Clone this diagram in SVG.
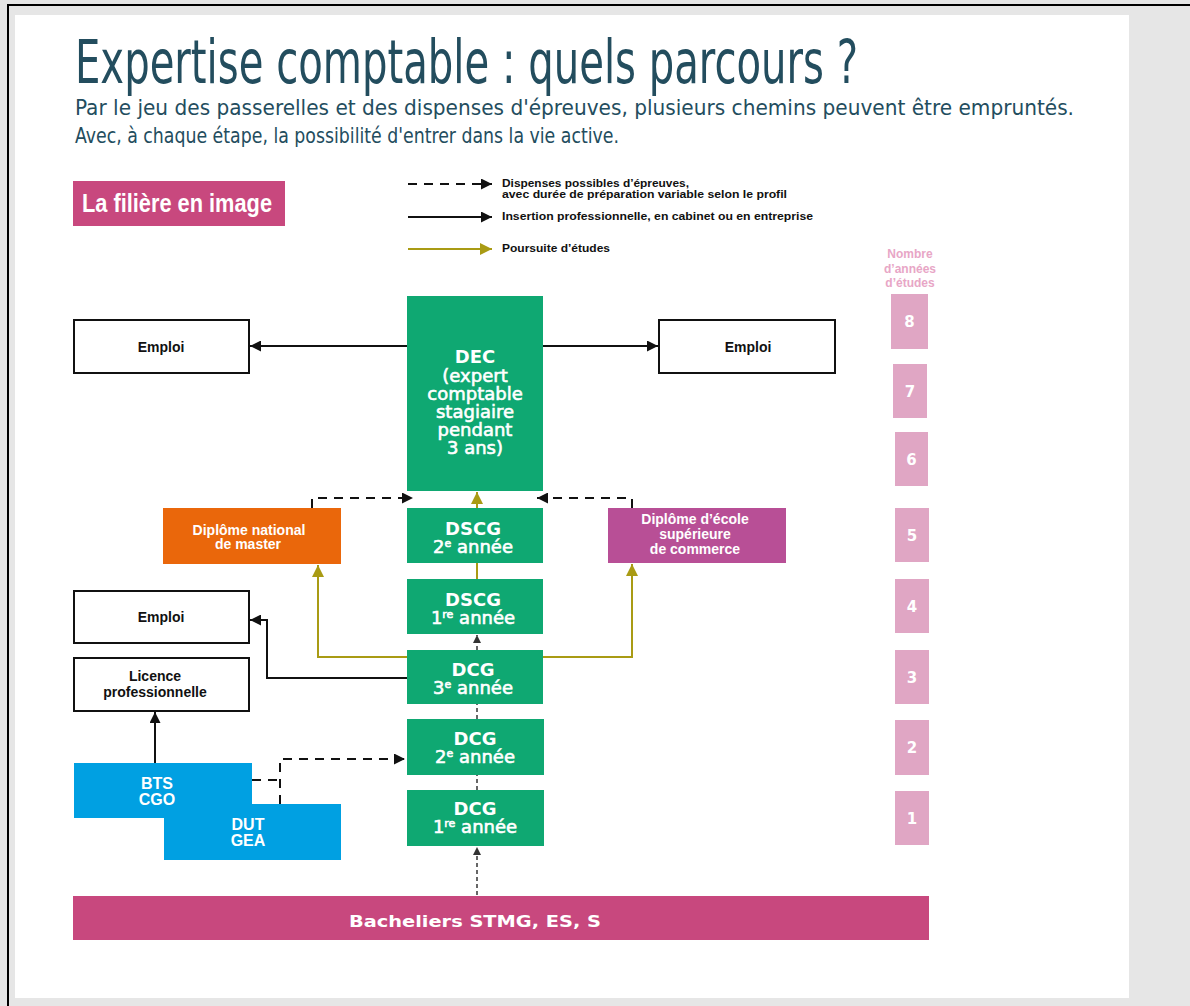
<svg xmlns="http://www.w3.org/2000/svg" width="1190" height="1006" viewBox="0 0 1190 1006">
<defs>
<style>
.cond{font-family:"Liberation Sans","DejaVu Sans",sans-serif;font-weight:bold}
.wide{font-family:"DejaVu Sans","Liberation Sans",sans-serif;font-weight:bold}
.med{font-family:"DejaVu Sans","Liberation Sans",sans-serif;font-weight:normal;stroke:#fff;stroke-width:0.6}
.green{fill:#0fa872}
.wbox{fill:#fff;stroke:#111;stroke-width:2}
.year{fill:#e0a6c4}
.yn{font-family:"DejaVu Sans",sans-serif;font-weight:bold;font-size:15px;fill:#fff;text-anchor:middle}
.blk{fill:none;stroke:#111;stroke-width:2}
.olv{fill:none;stroke:#a99b14;stroke-width:2}
.dsh{fill:none;stroke:#111;stroke-width:2;stroke-dasharray:9,7}
.dot{fill:none;stroke:#666;stroke-width:2;stroke-dasharray:4,3}
</style>
<marker id="ab" viewBox="0 0 10 10" refX="10" refY="5" markerWidth="11" markerHeight="11" markerUnits="userSpaceOnUse" orient="auto"><path d="M0,0 L10,5 L0,10 z" fill="#111"/></marker>
<marker id="ao" viewBox="0 0 10 10" refX="10" refY="5" markerWidth="12" markerHeight="12" markerUnits="userSpaceOnUse" orient="auto"><path d="M0,0 L10,5 L0,10 z" fill="#a99b14"/></marker>
<marker id="ag" viewBox="0 0 10 10" refX="10" refY="5" markerWidth="8" markerHeight="8" markerUnits="userSpaceOnUse" orient="auto"><path d="M0,0 L10,5 L0,10 z" fill="#333"/></marker>
</defs>

<rect x="0" y="0" width="1190" height="1006" fill="#e6e6e6"/>
<line x1="7" y1="5" x2="1190" y2="5" stroke="#000" stroke-width="2"/>
<line x1="8" y1="5" x2="8" y2="1006" stroke="#000" stroke-width="2"/>
<rect x="15" y="15" width="1114" height="983" fill="#fff"/>

<g id="title">
<text x="75" y="83" font-family="'Liberation Sans Narrow','DejaVu Sans Condensed','Liberation Sans',sans-serif" font-size="60" fill="#234d5e" textLength="783" lengthAdjust="spacingAndGlyphs">Expertise comptable : quels parcours ?</text>
<text x="75" y="115" font-family="'Liberation Sans Narrow','DejaVu Sans Condensed','Liberation Sans',sans-serif" font-size="21" fill="#234d5e" textLength="999" lengthAdjust="spacingAndGlyphs">Par le jeu des passerelles et des dispenses d'épreuves, plusieurs chemins peuvent être empruntés.</text>
<text x="75" y="143" font-family="'Liberation Sans Narrow','DejaVu Sans Condensed','Liberation Sans',sans-serif" font-size="21" fill="#234d5e" textLength="544" lengthAdjust="spacingAndGlyphs">Avec, à chaque étape, la possibilité d'entrer dans la vie active.</text>
</g>

<g id="badge">
<rect x="73" y="181" width="212" height="45" fill="#c8487e"/>
<text x="82" y="212" class="cond" font-size="25" fill="#fff" textLength="190" lengthAdjust="spacingAndGlyphs">La filière en image</text>
</g>

<g id="legend">
<line x1="408" y1="184" x2="492" y2="184" class="dsh" marker-end="url(#ab)"/>
<text x="502" y="187" class="cond" font-size="11" fill="#111" textLength="187" lengthAdjust="spacingAndGlyphs">Dispenses possibles d’épreuves,</text>
<text x="502" y="198" class="cond" font-size="11" fill="#111" textLength="285" lengthAdjust="spacingAndGlyphs">avec durée de préparation variable selon le profil</text>
<line x1="408" y1="217" x2="492" y2="217" class="blk" marker-end="url(#ab)"/>
<text x="502" y="220" class="cond" font-size="11" fill="#111" textLength="311" lengthAdjust="spacingAndGlyphs">Insertion professionnelle, en cabinet ou en entreprise</text>
<line x1="408" y1="249" x2="492" y2="249" class="olv" marker-end="url(#ao)"/>
<text x="502" y="252" class="cond" font-size="11" fill="#111" textLength="108" lengthAdjust="spacingAndGlyphs">Poursuite d’études</text>
</g>

<g id="years">
<text x="910" y="258" class="cond" font-size="12" fill="#e8a6c6" text-anchor="middle">Nombre</text>
<text x="910" y="273" class="cond" font-size="12" fill="#e8a6c6" text-anchor="middle">d’années</text>
<text x="910" y="287" class="cond" font-size="12" fill="#e8a6c6" text-anchor="middle">d’études</text>
<g id="y8"><rect x="891" y="294" width="37" height="55" class="year"/><text x="909.5" y="327" class="yn">8</text></g>
<g id="y7"><rect x="893" y="364" width="34" height="54" class="year"/><text x="910" y="397" class="yn">7</text></g>
<g id="y6"><rect x="895" y="432" width="33" height="54" class="year"/><text x="911.5" y="465" class="yn">6</text></g>
<g id="y5"><rect x="895" y="508" width="34" height="54" class="year"/><text x="912" y="541" class="yn">5</text></g>
<g id="y4"><rect x="895" y="579" width="34" height="54" class="year"/><text x="912" y="612" class="yn">4</text></g>
<g id="y3"><rect x="895" y="650" width="34" height="54" class="year"/><text x="912" y="683" class="yn">3</text></g>
<g id="y2"><rect x="895" y="720" width="34" height="55" class="year"/><text x="912" y="753" class="yn">2</text></g>
<g id="y1"><rect x="895" y="791" width="34" height="54" class="year"/><text x="912" y="824" class="yn">1</text></g>
</g>

<g id="connectors">
<line x1="407" y1="346" x2="250" y2="346" class="blk" marker-end="url(#ab)"/>
<line x1="543" y1="346" x2="658" y2="346" class="blk" marker-end="url(#ab)"/>
<polyline points="407,678 267,678 267,620 250,620" class="blk" marker-end="url(#ab)"/>
<line x1="155" y1="763" x2="155" y2="712" class="blk" marker-end="url(#ab)"/>
<polyline points="407,657 318,657 318,565" class="olv" marker-end="url(#ao)"/>
<polyline points="543,657 632,657 632,564" class="olv" marker-end="url(#ao)"/>
<line x1="477" y1="579" x2="477" y2="563" stroke="#a99b14" stroke-width="2"/>
<line x1="477" y1="508" x2="477" y2="492" class="olv" marker-end="url(#ao)"/>
<polyline points="312,508 312,498 413,498" class="dsh" marker-end="url(#ab)"/>
<polyline points="632,508 632,498 537,498" class="dsh" marker-end="url(#ab)"/>
<polyline points="252,780 280,780" class="dsh"/>
<polyline points="280,804 280,759 405,759" class="dsh" marker-end="url(#ab)"/>
<line x1="477" y1="650" x2="477" y2="635" class="dot" marker-end="url(#ag)"/>
<line x1="477" y1="719" x2="477" y2="704" class="dot"/>
<line x1="477" y1="790" x2="477" y2="775" class="dot"/>
<line x1="477" y1="895" x2="477" y2="847" class="dot" marker-end="url(#ag)"/>
</g>

<g id="emploi-top-left"><rect x="74" y="320" width="175" height="53" class="wbox"/><text x="161" y="352" class="cond" font-size="14" text-anchor="middle" fill="#111">Emploi</text></g>
<g id="emploi-top-right"><rect x="659" y="320" width="176" height="53" class="wbox"/><text x="748" y="352" class="cond" font-size="14" text-anchor="middle" fill="#111">Emploi</text></g>
<g id="emploi-mid"><rect x="74" y="591" width="175" height="52" class="wbox"/><text x="161" y="622" class="cond" font-size="14" text-anchor="middle" fill="#111">Emploi</text></g>
<g id="licence"><rect x="74" y="658" width="175" height="53" class="wbox"/><text x="155" y="681" class="cond" font-size="14" text-anchor="middle" fill="#111">Licence</text><text x="155" y="697" class="cond" font-size="14" text-anchor="middle" fill="#111">professionnelle</text></g>

<g id="dec"><rect x="407" y="296" width="136" height="195" class="green"/>
<text x="475" y="363" class="wide" font-size="18" fill="#fff" text-anchor="middle">DEC</text>
<text x="475" y="382" class="med" font-size="18" fill="#fff" text-anchor="middle">(expert</text>
<text x="475" y="400" class="med" font-size="18" fill="#fff" text-anchor="middle">comptable</text>
<text x="475" y="418" class="med" font-size="18" fill="#fff" text-anchor="middle">stagiaire</text>
<text x="475" y="436" class="med" font-size="18" fill="#fff" text-anchor="middle">pendant</text>
<text x="475" y="454" class="med" font-size="18" fill="#fff" text-anchor="middle">3 ans)</text>
</g>

<g id="dscg2"><rect x="407" y="508" width="136" height="55" class="green"/>
<text x="473" y="535" class="wide" font-size="18" fill="#fff" text-anchor="middle">DSCG</text>
<text x="473" y="553" class="med" font-size="18" fill="#fff" text-anchor="middle">2<tspan font-size="11" dy="-6">e</tspan><tspan dy="6"> année</tspan></text>
</g>
<g id="dscg1"><rect x="407" y="579" width="136" height="55" class="green"/>
<text x="473" y="606" class="wide" font-size="18" fill="#fff" text-anchor="middle">DSCG</text>
<text x="473" y="624" class="med" font-size="18" fill="#fff" text-anchor="middle">1<tspan font-size="11" dy="-6">re</tspan><tspan dy="6"> année</tspan></text>
</g>
<g id="dcg3"><rect x="407" y="650" width="136" height="54" class="green"/>
<text x="473" y="676" class="wide" font-size="18" fill="#fff" text-anchor="middle">DCG</text>
<text x="473" y="694" class="med" font-size="18" fill="#fff" text-anchor="middle">3<tspan font-size="11" dy="-6">e</tspan><tspan dy="6"> année</tspan></text>
</g>
<g id="dcg2"><rect x="407" y="719" width="137" height="56" class="green"/>
<text x="475" y="745" class="wide" font-size="18" fill="#fff" text-anchor="middle">DCG</text>
<text x="475" y="763" class="med" font-size="18" fill="#fff" text-anchor="middle">2<tspan font-size="11" dy="-6">e</tspan><tspan dy="6"> année</tspan></text>
</g>
<g id="dcg1"><rect x="407" y="790" width="137" height="56" class="green"/>
<text x="475" y="815" class="wide" font-size="18" fill="#fff" text-anchor="middle">DCG</text>
<text x="475" y="833" class="med" font-size="18" fill="#fff" text-anchor="middle">1<tspan font-size="11" dy="-6">re</tspan><tspan dy="6"> année</tspan></text>
</g>

<g id="master"><rect x="163" y="508" width="178" height="56" fill="#ea670b"/>
<text x="249" y="535" class="cond" font-size="14" fill="#fff" text-anchor="middle">Diplôme national</text>
<text x="248" y="549" class="cond" font-size="14" fill="#fff" text-anchor="middle">de master</text>
</g>
<g id="commerce"><rect x="608" y="508" width="178" height="55" fill="#b84f96"/>
<text x="695" y="524" class="cond" font-size="14" fill="#fff" text-anchor="middle">Diplôme d’école</text>
<text x="695" y="539" class="cond" font-size="14" fill="#fff" text-anchor="middle">supérieure</text>
<text x="695" y="554" class="cond" font-size="14" fill="#fff" text-anchor="middle">de commerce</text>
</g>

<g id="bts-dut">
<rect x="74" y="763" width="178" height="55" fill="#00a0e2"/>
<rect x="164" y="804" width="177" height="56" fill="#00a0e2"/>
<text x="157" y="789" class="cond" font-size="16" fill="#fff" text-anchor="middle">BTS</text>
<text x="157" y="805" class="cond" font-size="16" fill="#fff" text-anchor="middle">CGO</text>
<text x="248" y="830" class="cond" font-size="16" fill="#fff" text-anchor="middle">DUT</text>
<text x="248" y="846" class="cond" font-size="16" fill="#fff" text-anchor="middle">GEA</text>
</g>

<g id="bacheliers"><rect x="73" y="896" width="856" height="44" fill="#c8487e"/>
<text x="349" y="927" class="wide" font-size="16" fill="#fff" textLength="252" lengthAdjust="spacingAndGlyphs">Bacheliers STMG, ES, S</text>
</g>
</svg>
